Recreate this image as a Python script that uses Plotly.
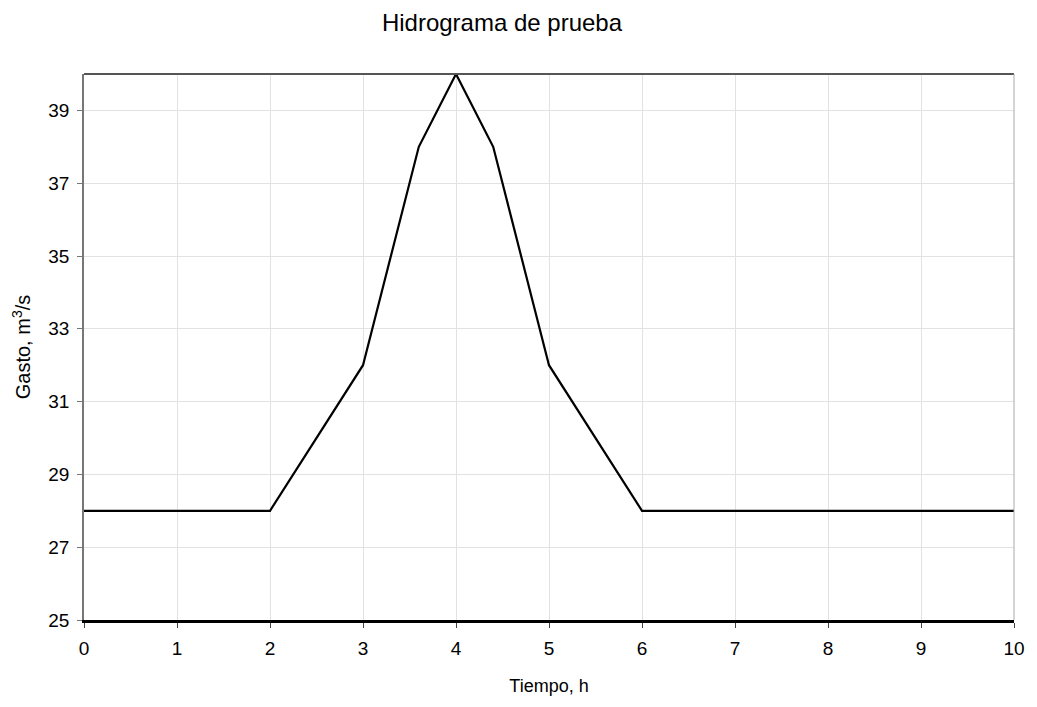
import plotly.graph_objects as go

tiempo_h = [0, 2, 3, 3.6, 4, 4.4, 5, 6, 10]
gasto_m3s = [28, 28, 32, 38, 40, 38, 32, 28, 28]
x_ticks = list(range(0, 11))
y_ticks = list(range(25, 40, 2))

fig = go.Figure()
fig.add_trace(go.Scatter(x=tiempo_h, y=gasto_m3s, mode="lines",
                         line=dict(color="black", width=2.2), showlegend=False,
                         cliponaxis=False))

font = "Liberation Sans, Arial, sans-serif"
fig.update_layout(
    width=1037, height=707,
    margin=dict(l=84, r=20, t=74, b=87),
    paper_bgcolor="white", plot_bgcolor="white",
    font=dict(family=font, color="black", size=18),
    title=dict(text="Hidrograma de prueba", x=502 / 1037, xref="container",
               xanchor="center", y=1 - 23 / 707, yanchor="middle",
               font=dict(size=24, family=font)),
)
fig.update_xaxes(range=[0, 10], tickvals=x_ticks, showgrid=True, gridcolor="#e2e2e2",
                 gridwidth=1, showline=True, linecolor="black", linewidth=2.5,
                 ticks="outside", ticklen=5, tickcolor="#444", zeroline=False,
                 tickfont=dict(size=19), mirror=False, ticklabelstandoff=4,
                 title=dict(text="Tiempo, h", font=dict(size=18), standoff=22))
fig.update_yaxes(range=[25, 40], tickvals=y_ticks, showgrid=True, gridcolor="#e2e2e2",
                 gridwidth=1, showline=True, linecolor="#777", linewidth=1.5,
                 ticks="outside", ticklen=5, tickcolor="#777", zeroline=False,
                 tickfont=dict(size=19), ticklabelstandoff=4,
                 title=dict(text="Gasto, m<sup>3</sup>/s", font=dict(size=20), standoff=12))
# top and right frame
fig.add_shape(type="line", xref="paper", yref="paper", x0=0, x1=1, y0=1, y1=1,
              line=dict(color="#555", width=2))
fig.add_shape(type="line", xref="paper", yref="paper", x0=1, x1=1, y0=0, y1=1,
              line=dict(color="#aaa", width=1))

fig.write_html("out.html")
